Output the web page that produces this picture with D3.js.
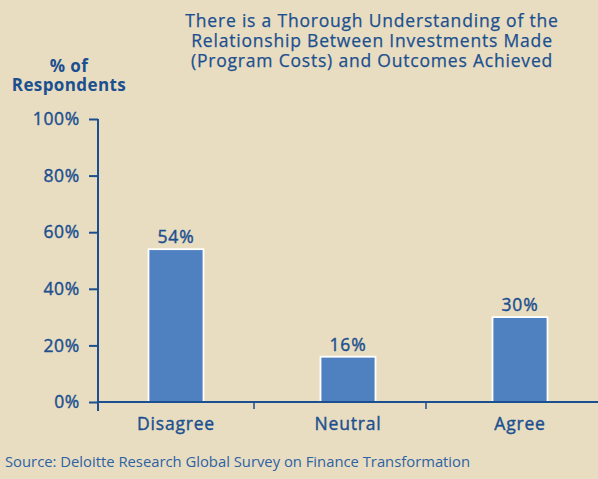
<!DOCTYPE html>
<html>
<head>
<meta charset="utf-8">
<script src="https://cdn.jsdelivr.net/npm/d3@7"></script>
<style>
  html, body { margin: 0; padding: 0; background: #e8ddc1; }
  svg { display: block; }
  text { font-family: "Open Sans", "Noto Sans", sans-serif; fill: #1b4f8f; }
  .medium { stroke: #1b4f8f; stroke-width: 0.4px; paint-order: stroke; }
  .light { stroke: #1b4f8f; stroke-width: 0.25px; paint-order: stroke; }
</style>
</head>
<body>
<svg id="chart" width="598" height="479"></svg>
<script>
// Survey responses
const categories = ["Disagree", "Neutral", "Agree"];
const values = [54, 16, 30];
const yTicks = [0, 20, 40, 60, 80, 100];
const titleLines = [
  "There is a Thorough Understanding of the",
  "Relationship Between Investments Made",
  "(Program Costs) and Outcomes Achieved"
];
const yLabelLines = ["% of", "Respondents"];
const sourceNote = "Source: Deloitte Research Global Survey on Finance Transformation";

const W = 598, H = 479;
const axisColor = "#1b4f8f";
const barColor = "#4f81c1";
const svg = d3.select("#chart");

svg.append("rect").attr("width", W).attr("height", H).attr("fill", "#e8ddc1");

const y = d3.scaleLinear().domain([0, 100]).range([402, 119]);
const x = d3.scaleBand().domain(categories).range([90, 606]).paddingInner(0).paddingOuter(0);
const barW = 55;

// Title, one text block with a line per tspan
svg.append("text")
  .attr("class", "light")
  .attr("text-anchor", "middle")
  .style("font-size", "17.5px").style("letter-spacing", "0.8px")
  .selectAll("tspan").data(titleLines).join("tspan")
  .attr("x", 372).attr("y", (d, i) => 27 + i * 20)
  .text(d => d);

// Y axis label
svg.append("text")
  .attr("text-anchor", "middle")
  .style("font-size", "17px").style("font-weight", "bold").style("letter-spacing", "0.4px")
  .selectAll("tspan").data(yLabelLines).join("tspan")
  .attr("x", 69).attr("y", (d, i) => 72 + i * 19)
  .text(d => d);

// Y axis
const yAxis = d3.axisLeft(y).tickValues(yTicks).tickFormat(d => d + "%").tickSize(9).tickPadding(9);
const gy = svg.append("g").attr("transform", "translate(98,0)").call(yAxis);
gy.select(".domain").remove();
gy.selectAll(".tick line").attr("stroke", axisColor).attr("stroke-width", 2);
gy.selectAll(".tick text").attr("fill", axisColor).attr("class", "medium")
  .style("font-size", "17.5px").style("letter-spacing", "0.7px");
gy.append("line").attr("x1", 0).attr("x2", 0).attr("y1", y(100)).attr("y2", y(0) + 9)
  .attr("stroke", axisColor).attr("stroke-width", 2);

// Bars
svg.append("g").selectAll("rect").data(values).join("rect")
  .attr("x", (d, i) => x(categories[i]) + x.bandwidth() / 2 - barW / 2)
  .attr("y", d => y(d))
  .attr("width", barW)
  .attr("height", d => y(0) - y(d))
  .attr("fill", barColor)
  .attr("stroke", "#ffffff").attr("stroke-width", 1.8);

// Value labels
svg.append("g").selectAll("text").data(values).join("text")
  .attr("class", "medium")
  .attr("x", (d, i) => x(categories[i]) + x.bandwidth() / 2)
  .attr("y", d => y(d) - 6)
  .attr("text-anchor", "middle")
  .style("font-size", "17.5px").style("letter-spacing", "0.8px")
  .text(d => d + "%");

// X axis baseline and category separators
svg.append("line").attr("x1", 98).attr("x2", W).attr("y1", y(0)).attr("y2", y(0))
  .attr("stroke", axisColor).attr("stroke-width", 2);
svg.append("g").selectAll("line").data(categories.slice(1)).join("line")
  .attr("x1", d => x(d) - 8).attr("x2", d => x(d) - 8)
  .attr("y1", y(0)).attr("y2", y(0) + 7)
  .attr("stroke", axisColor).attr("stroke-width", 1.5);

// Category labels
svg.append("g").selectAll("text").data(categories).join("text")
  .attr("class", "medium")
  .attr("x", d => x(d) + x.bandwidth() / 2)
  .attr("y", 430)
  .attr("text-anchor", "middle")
  .style("font-size", "17.5px").style("letter-spacing", "0.8px")
  .text(d => d);

// Source
svg.append("text").attr("x", 5).attr("y", 467)
  .style("font-size", "14.8px").style("fill", "#2d62a3")
  .text(sourceNote);
</script>
</body>
</html>
